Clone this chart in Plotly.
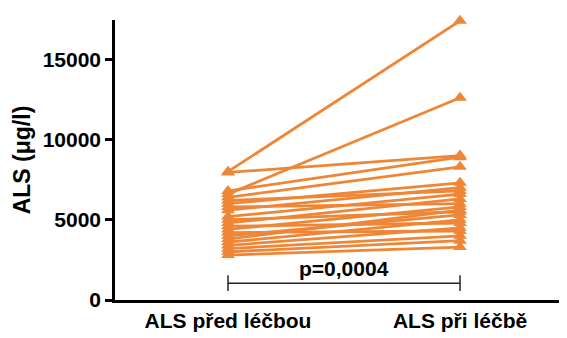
import plotly.graph_objects as go

categories = ["ALS před léčbou", "ALS při léčbě"]
before = [8000, 7950, 6600, 6800, 6400, 6000, 5600, 6200, 5200, 4800, 5800,
          4400, 5000, 4000, 3600, 4600, 3400, 4200, 3200, 3000, 2800, 3800]
during = [17400, 9000, 12600, 8900, 8300, 7300, 7000, 6800, 6600, 6300, 6000,
          5800, 5500, 5300, 5000, 4800, 4500, 4300, 4000, 3700, 3300, 5600]
y_ticks = [0, 5000, 10000, 15000]
p_text = "p=0,0004"

color = "#EF8636"
fig = go.Figure()
for b, d in zip(before, during):
    fig.add_trace(go.Scatter(
        x=[0, 1], y=[b, d], mode="lines+markers", cliponaxis=False,
        line=dict(color=color, width=2.8),
        marker=dict(symbol="triangle-up", size=12, color=color),
        showlegend=False, hoverinfo="skip"))

font = dict(family="Liberation Sans, Arial, sans-serif", color="black")

# significance bracket
fig.add_shape(type="line", x0=0, x1=1, y0=1050, y1=1050, line=dict(color="#222", width=1.5))
fig.add_shape(type="line", x0=0, x1=0, y0=560, y1=1550, line=dict(color="#222", width=1.5))
fig.add_shape(type="line", x0=1, x1=1, y0=560, y1=1550, line=dict(color="#222", width=1.5))
fig.add_annotation(x=0.5, y=1150, text="<b>" + p_text + "</b>", showarrow=False,
                   yanchor="bottom", font=dict(size=21, **font))

fig.update_layout(
    width=559, height=330,
    margin=dict(l=107, r=0, t=12, b=38),
    plot_bgcolor="white", paper_bgcolor="white",
    font=font,
    xaxis=dict(range=[-0.487, 1.461], tickmode="array", tickvals=[0, 1],
               ticktext=["<b>" + c + "</b>" for c in categories],
               showline=True, linecolor="black", linewidth=2.5, ticks="",
               showgrid=False, zeroline=False, tickfont=dict(size=21, **font)),
    yaxis=dict(range=[0, 17450], tickvals=y_ticks,
               ticktext=["<b>%d</b>" % v for v in y_ticks],
               showline=True, linecolor="black", linewidth=2.5,
               ticks="outside", ticklen=7, tickwidth=2.5, tickcolor="black",
               showgrid=False, zeroline=False, tickfont=dict(size=21, **font),
               title=dict(text="<b>ALS (μg/l)</b>", font=dict(size=23, **font), standoff=6)),
)
fig.write_html("out.html")
